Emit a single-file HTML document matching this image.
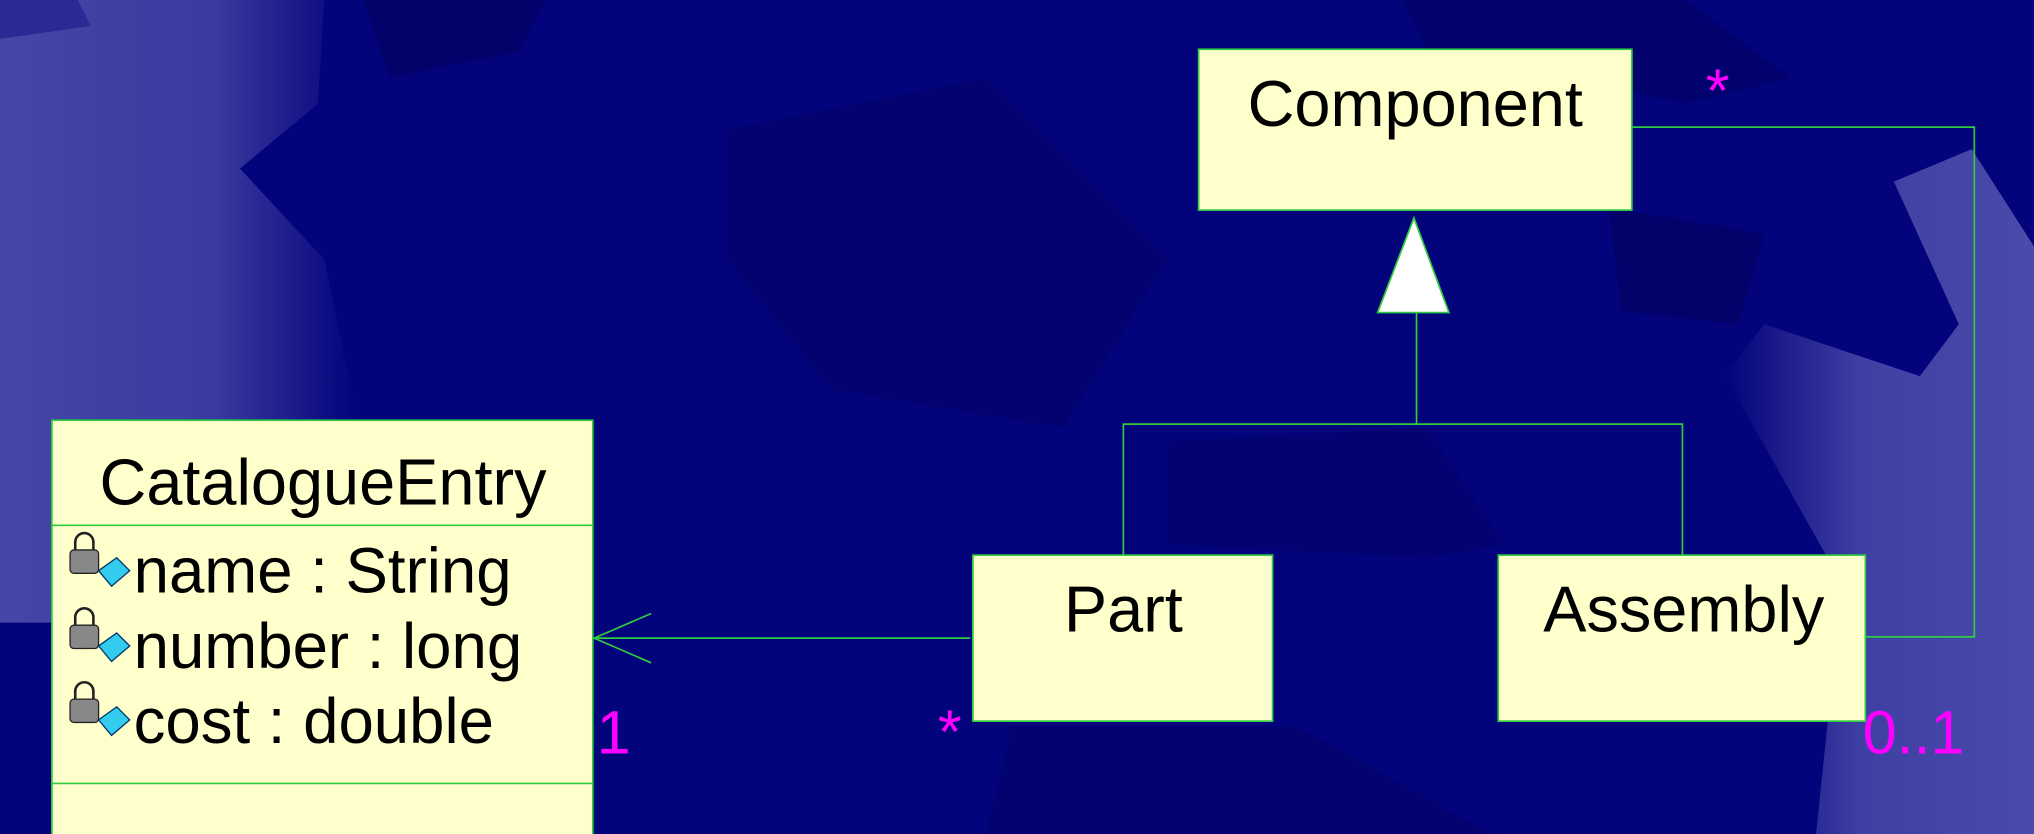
<!DOCTYPE html>
<html><head><meta charset="utf-8"><style>
html,body{margin:0;padding:0;background:#03037c;}
svg{display:block;}
text{font-family:"Liberation Sans",sans-serif;}
</style></head><body>
<svg width="2034" height="834" viewBox="0 0 1568 643" preserveAspectRatio="none" xmlns="http://www.w3.org/2000/svg">
<defs>
<linearGradient id="lg" x1="0" x2="1" y1="0" y2="0"><stop offset="0" stop-color="#4646a6"/><stop offset="0.6" stop-color="#3a3aa0"/><stop offset="1" stop-color="#03037c"/></linearGradient>
<linearGradient id="rg" x1="1" x2="0" y1="0" y2="0"><stop offset="0" stop-color="#4a4aaa"/><stop offset="0.55" stop-color="#4040a4"/><stop offset="1" stop-color="#03037c"/></linearGradient>
</defs>
<rect x="0" y="0" width="1568" height="643" fill="#03037c"/>
<g>
<polygon points="130,0 250,0 245,80 185,130 250,200 275,320 230,360 200,470 90,480 0,480 0,0" fill="url(#lg)"/>
<polygon points="0,0 60,0 70,20 0,30" fill="#2a2a95"/>
<polygon points="1460,140 1520,115 1568,190 1568,643 1400,643 1420,450 1330,290 1360,250 1480,290 1510,250" fill="url(#rg)"/>
<polygon points="280,0 420,0 400,40 300,60" fill="#02026a"/>
<polygon points="560,100 760,60 900,200 820,330 640,300 560,200" fill="#020270"/>
<polygon points="1240,160 1360,180 1340,250 1250,240" fill="#02026a"/>
<polygon points="900,340 1100,330 1160,420 1100,430 900,420" fill="#020272"/>
<polygon points="1080,0 1300,0 1380,60 1300,80 1100,40" fill="#02026e"/>
<polygon points="780,560 1000,560 1150,643 760,643" fill="#020270"/>
</g>
<g stroke="#2ecc40" stroke-width="1.3" fill="none">
<polyline points="1092,241 1092,327"/>
<polyline points="866,428 866,327 1297,327 1297,428"/>
<polyline points="1438,491 1522,491 1522,98 1258,98"/>
<line x1="458" y1="492" x2="748" y2="492"/>
<polyline points="502,473 458,492 502,511"/>
</g>
<polygon points="1062,241 1117,241 1090,168" fill="#ffffff" stroke="#2ecc40" stroke-width="1.3"/>
<g>
<rect x="924" y="38" width="334" height="124" fill="#ffffcc" stroke="#2ecc40" stroke-width="1.3"/>
<text x="1091" y="97" font-size="50" text-anchor="middle" fill="#000">Component</text>
</g>
<g>
<rect x="750" y="428" width="231" height="128" fill="#ffffcc" stroke="#2ecc40" stroke-width="1.3"/>
<text x="866" y="487" font-size="50" text-anchor="middle" fill="#000">Part</text>
</g>
<g>
<rect x="1155" y="428" width="283" height="128" fill="#ffffcc" stroke="#2ecc40" stroke-width="1.3"/>
<text x="1298" y="487" font-size="50" text-anchor="middle" fill="#000">Assembly</text>
</g>
<g>
<rect x="40" y="324" width="417" height="330" fill="#ffffcc" stroke="#2ecc40" stroke-width="1.3"/>
<line x1="40" y1="405" x2="457" y2="405" stroke="#2ecc40" stroke-width="1.3"/>
<line x1="40" y1="604" x2="457" y2="604" stroke="#2ecc40" stroke-width="1.3"/>
<text x="249" y="389" font-size="50" text-anchor="middle" fill="#000">CatalogueEntry</text>
<g>
<rect x="54" y="424" width="22" height="18" rx="3" fill="#888" stroke="#222"/><path d="M58,424 v-6 a7,7 0 0 1 14,0 v6" fill="none" stroke="#222" stroke-width="2"/>
<polygon points="76,440 90,430 100,440 86,452" fill="#33ccee" stroke="#036" />
<text x="103" y="457" font-size="49" fill="#000">name : String</text>
</g>
<g>
<rect x="54" y="482" width="22" height="18" rx="3" fill="#888" stroke="#222"/><path d="M58,482 v-6 a7,7 0 0 1 14,0 v6" fill="none" stroke="#222" stroke-width="2"/>
<polygon points="76,498 90,488 100,498 86,510" fill="#33ccee" stroke="#036"/>
<text x="103" y="515" font-size="49" fill="#000">number : long</text>
</g>
<g>
<rect x="54" y="539" width="22" height="18" rx="3" fill="#888" stroke="#222"/><path d="M58,539 v-6 a7,7 0 0 1 14,0 v6" fill="none" stroke="#222" stroke-width="2"/>
<polygon points="76,555 90,545 100,555 86,567" fill="#33ccee" stroke="#036"/>
<text x="103" y="573" font-size="49" fill="#000">cost : double</text>
</g>
</g>
<g fill="#ff00ff" font-size="47">
<text x="1315" y="86">*</text>
<text x="1436" y="581">0..1</text>
<text x="460" y="581">1</text>
<text x="723" y="580">*</text>
</g>
</svg>
</body></html>
